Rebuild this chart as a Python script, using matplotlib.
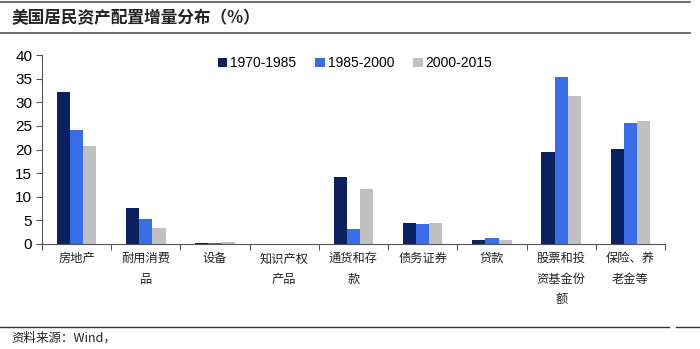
import numpy as np
import matplotlib.pyplot as plt
from matplotlib.lines import Line2D

plt.rcParams['font.family'] = ['Liberation Sans', 'Noto Sans CJK SC', 'DejaVu Sans']

categories = ['房地产', '耐用消费\n品', '设备', '知识产权\n产品', '通货和存\n款',
              '债务证券', '贷款', '股票和投\n资基金份\n额', '保险、养\n老金等']
periods = ['1970-1985', '1985-2000', '2000-2015']
v_1970_1985 = [32.2, 7.6, 0.2, 0.05, 14.2, 4.5, 0.8, 19.5, 20.1]
v_1985_2000 = [24.1, 5.3, 0.1, 0.05, 3.2, 4.3, 1.2, 35.3, 25.6]
v_2000_2015 = [20.7, 3.4, 0.4, 0.05, 11.6, 4.4, 0.8, 31.3, 26.0]
colors = ['#0c2160', '#3a6ee8', '#c0c0c2']

fig = plt.figure(figsize=(7, 3.49), dpi=100)
ax = fig.add_axes([0.06, 0.301, 0.89, 0.541])

x = np.arange(len(categories))
w = 0.19
for i, (vals, lab, c) in enumerate(zip([v_1970_1985, v_1985_2000, v_2000_2015], periods, colors)):
    ax.bar(x + (i - 1) * w, vals, w, color=c, label=lab)

ax.set_xlim(-0.5, len(categories) - 0.5)
ax.set_ylim(0, 40)
ax.set_yticks(range(0, 41, 5))
ax.tick_params(axis='y', labelsize=11, length=4, width=0.8, color='#555555', pad=3)
ax.set_xticks(x)
ax.set_xticklabels(categories, fontsize=8.8, linespacing=1.75, va='top', color='#222222',
                   family=['Noto Sans CJK SC'])
ax.tick_params(axis='x', length=0, pad=6)
ax.set_xticks(np.arange(-0.5, len(categories), 1), minor=True)
ax.tick_params(axis='x', which='minor', length=4, width=0.8, color='#555555', direction='out')
for s in ['top', 'right']:
    ax.spines[s].set_visible(False)
for s in ['left', 'bottom']:
    ax.spines[s].set_color('#555555')
    ax.spines[s].set_linewidth(0.8)

ax.legend(loc='upper left', bbox_to_anchor=(0.262, 1.06), ncol=3, frameon=False,
          fontsize=10, handlelength=0.7, handleheight=0.7, handletextpad=0.2,
          columnspacing=1.35)

# title block and rules
fig.add_artist(Line2D([0, 0.985], [0.994, 0.994], color='#555555', lw=1.2))
fig.text(0.017, 0.948, '美国居民资产配置增量分布（%）', fontsize=12, fontweight='bold',
         va='center', color='#222222', family=['Noto Sans CJK SC'])
fig.add_artist(Line2D([0, 0.985], [0.905, 0.905], color='#555555', lw=1.2))
fig.add_artist(Line2D([0, 0.955], [0.063, 0.063], color='#333333', lw=1.0))
fig.add_artist(Line2D([0.965, 1.0], [0.063, 0.063], color='#333333', lw=1.0))
fig.text(0.017, 0.03, '资料来源：Wind，', fontsize=9, va='center', color='#222222',
         family=['Noto Sans CJK SC', 'Liberation Sans'])

fig.savefig('out.png', dpi=100)
